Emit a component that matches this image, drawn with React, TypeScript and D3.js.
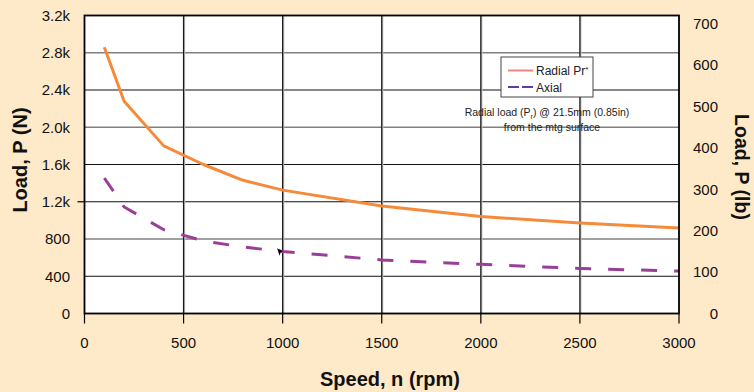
import React from "react";
import * as d3 from "d3";

const speeds = [100, 200, 400, 600, 800, 1000, 1500, 2000, 2500, 3000];
const radialN = [2860, 2280, 1800, 1600, 1430, 1325, 1155, 1042, 972, 918];
const axialN = [1455, 1144, 900, 779, 714, 666, 575, 528, 483, 456];

const xTicks = [0, 500, 1000, 1500, 2000, 2500, 3000];
const leftTicks = [0, 400, 800, 1200, 1600, 2000, 2400, 2800, 3200];
const leftTickLabels = ["0", "400", "800", "1.2k", "1.6k", "2.0k", "2.4k", "2.8k", "3.2k"];
const grayGridTicks = [800, 2000, 2800];
const rightTicks = [0, 100, 200, 300, 400, 500, 600, 700];
const N_PER_LB = 4.448;

const FONT = "'Liberation Sans', Arial, Helvetica, sans-serif";

export default function App() {
  const W = 754, H = 392;
  const L = 84.5, R = 679, T = 15.5, B = 313.5;
  const x = d3.scaleLinear().domain([0, 3000]).range([L, R]);
  const yN = d3.scaleLinear().domain([0, 3200]).range([B, T]);
  const yLb = d3.scaleLinear().domain([0, 3200 / N_PER_LB]).range([B, T]);

  const line = d3
    .line<number>()
    .x((_, i) => x(speeds[i]))
    .y((d) => yN(d));

  return (
    <svg
      width={W}
      height={H}
      style={{ position: "absolute", left: 0, top: 0, fontFamily: FONT }}
    >
      <rect x={0} y={0} width={W} height={H} fill="#FEE9C8" />
      <rect x={L} y={T} width={R - L} height={B - T} fill="#ffffff" />

      {/* horizontal gridlines */}
      {leftTicks
        .filter((t) => t > 0 && t < 3200)
        .map((t) => {
          const gray = grayGridTicks.includes(t);
          return (
            <line
              key={"h" + t}
              x1={L}
              x2={R}
              y1={yN(t)}
              y2={yN(t)}
              stroke={gray ? "#808080" : "#111"}
              strokeWidth={gray ? 1.6 : 1.1}
            />
          );
        })}
      {/* vertical gridlines */}
      {xTicks
        .filter((t) => t > 0 && t < 3000)
        .map((t) => (
          <g key={"v" + t}>
            <line x1={x(t) + 0.8} x2={x(t) + 0.8} y1={T} y2={B} stroke="#c8c8c8" strokeWidth={1.6} />
            <line x1={x(t)} x2={x(t)} y1={T} y2={B} stroke="#1a1a1a" strokeWidth={1.3} />
          </g>
        ))}

      {/* annotation */}
      <g fontSize={10.5} fill="#222" textAnchor="middle">
        <text x={547} y={116}>
          Radial load (P
          <tspan fontSize={7} dy={2.5}>r</tspan>
          <tspan dy={-2.5}>) @ 21.5mm (0.85in)</tspan>
        </text>
        <text x={552} y={131}>from the mtg surface</text>
      </g>

      {/* series */}
      <path d={line(radialN) || ""} fill="none" stroke="#F58A3A" strokeWidth={3} strokeLinejoin="round" />
      <path
        d={line(axialN) || ""}
        fill="none"
        stroke="#9A3F98"
        strokeWidth={3}
        strokeDasharray="16 17"
      />

      {/* cursor artifact */}
      <path
        d={`M${x(972)},${yN(700)} l6,3 l-2.5,1 l-1,3.5 Z`}
        fill="#000"
      />

      {/* plot border */}
      <rect x={L} y={T} width={R - L} height={B - T} fill="none" stroke="#000" strokeWidth={1.8} />

      {/* x ticks */}
      {xTicks.map((t) => (
        <g key={"xt" + t}>
          <line x1={x(t)} x2={x(t)} y1={B} y2={B + 10} stroke="#000" strokeWidth={1.2} />
          <text x={x(t)} y={348} fontSize={15} textAnchor="middle" fill="#111">
            {t}
          </text>
        </g>
      ))}
      <line x1={L - 7} x2={L} y1={yN(1200)} y2={yN(1200)} stroke="#000" strokeWidth={1.2} />

      {/* left tick labels */}
      {leftTicks.map((t, i) => (
        <text
          key={"lt" + t}
          x={70}
          y={yN(t)}
          dy="0.36em"
          fontSize={15}
          textAnchor="end"
          fill="#111"
        >
          {leftTickLabels[i]}
        </text>
      ))}
      {/* right tick labels */}
      {rightTicks.map((t) => (
        <text
          key={"rt" + t}
          x={718}
          y={yLb(t)}
          dy="0.36em"
          fontSize={15}
          textAnchor="end"
          fill="#111"
        >
          {t}
        </text>
      ))}

      {/* axis titles */}
      <text
        transform="translate(27,160) rotate(-90)"
        textAnchor="middle"
        fontSize={20}
        fontWeight="bold"
        fill="#111"
      >
        Load, P (N)
      </text>
      <text
        transform="translate(735,167) rotate(90)"
        textAnchor="middle"
        fontSize={19.5}
        fontWeight="bold"
        fill="#111"
      >
        Load, P (lb)
      </text>
      <text x={390} y={386} textAnchor="middle" fontSize={20} fontWeight="bold" fill="#111">
        Speed, n (rpm)
      </text>

      {/* legend */}
      <g>
        <rect x={501} y={57} width={92} height={40} fill="#fff" stroke="#444" strokeWidth={1} />
        <line x1={508} x2={533} y1={70.5} y2={70.5} stroke="#F08585" strokeWidth={2} />
        <text x={536} y={75} fontSize={12} fill="#222">
          Radial Pr
          <tspan fontSize={8} dy={-3}>*</tspan>
        </text>
        <line
          x1={508}
          x2={533}
          y1={87}
          y2={87}
          stroke="#5A3FA0"
          strokeWidth={2}
          strokeDasharray="11 3"
        />
        <text x={536} y={91.5} fontSize={12} fill="#222">
          Axial
        </text>
      </g>
    </svg>
  );
}
